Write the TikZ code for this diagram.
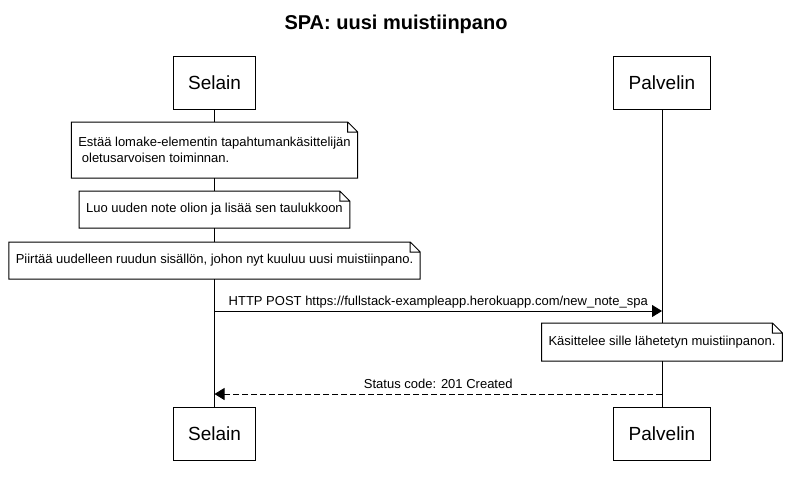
\documentclass[tikz,border=0pt]{standalone}
\usepackage{fontspec}
\setmainfont{Liberation Sans}
\usetikzlibrary{backgrounds, scopes, positioning}
\usetikzlibrary{arrows.meta}
\tikzset{
    mybox/.style={
        draw, fill=white, line width=1pt,
        minimum height=53pt, inner xsep=15pt, outer sep=0pt,
        font=\fontsize{19}{23}\selectfont
    },
    mynote/.style={
        fill=white, align=left, outer sep=0pt,
        inner xsep=7pt, inner ysep=0pt, minimum height=37pt,
        font=\fontsize{13}{16}\selectfont
    },
    mynoteline/.style={draw, line width=1pt, line join=miter},
    mymsg/.style={line width=1pt, -{Triangle[length=10pt, width=12pt]}},
    mylabel/.style={anchor=base, yshift=6pt, inner sep=0pt, font=\fontsize{13}{16}\selectfont}
}

\begin{document}
\begin{tikzpicture}[x=1pt, y=-1pt, node distance=13pt]
\useasboundingbox (0,0) rectangle (791,483);
\node[anchor=base, font=\bfseries\fontsize{20}{24}\selectfont] (title) at (396,29.5) {SPA: uusi muistiinpano};
\node[mybox] (selT) at (214.5,82.5) {Selain};
\node[mybox] (palT) at (662,82.5)   {Palvelin};

\node[mynote, minimum height=56pt, below=of selT] (n1) {Estää lomake-elementin tapahtumankäsittelijän\\\ oletusarvoisen toiminnan.};
\node[mynote, below=of n1]     (n2) {Luo uuden note olion ja lisää sen taulukkoon};
\node[mynote, below=14pt of n2] (n3) {Piirtää uudelleen ruudun sisällön, johon nyt kuuluu uusi muistiinpano.};

\coordinate[below=32pt of n3] (postS);
\coordinate (postP) at (postS -| palT);
\draw[mymsg] (postS) -- (postP) node[mylabel, midway] {HTTP POST https://fullstack-exampleapp.herokuapp.com/new\_note\_spa};

\node[mynote, minimum height=38pt, below=12pt of postP] (n4) {Käsittelee sille lähetetyn muistiinpanon.};

\coordinate[below=33pt of n4] (retP);
\coordinate (retS) at (retP -| selT);
\draw[mymsg, dash pattern=on 6pt off 3pt] (retP) -- (retS) node[mylabel, midway] {Status code: 201 Created};

\node[mybox, below=of retS] (selB) {Selain};
\node[mybox, below=of retP] (palB) {Palvelin};

% note outlines, folded corner top right
\foreach \n in {n1,n2,n3,n4}
    \draw[mynoteline] (\n.south west) -- (\n.north west) -- ([xshift=-10pt]\n.north east)
        -- ([yshift=-10pt]\n.north east) -- (\n.south east) -- cycle
        ([xshift=-10pt]\n.north east) |- ([yshift=-10pt]\n.north east);

\scoped[on background layer]
    \draw[line width=1pt] (selT) -- (selB) (palT) -- (palB);
\end{tikzpicture}
\end{document}
